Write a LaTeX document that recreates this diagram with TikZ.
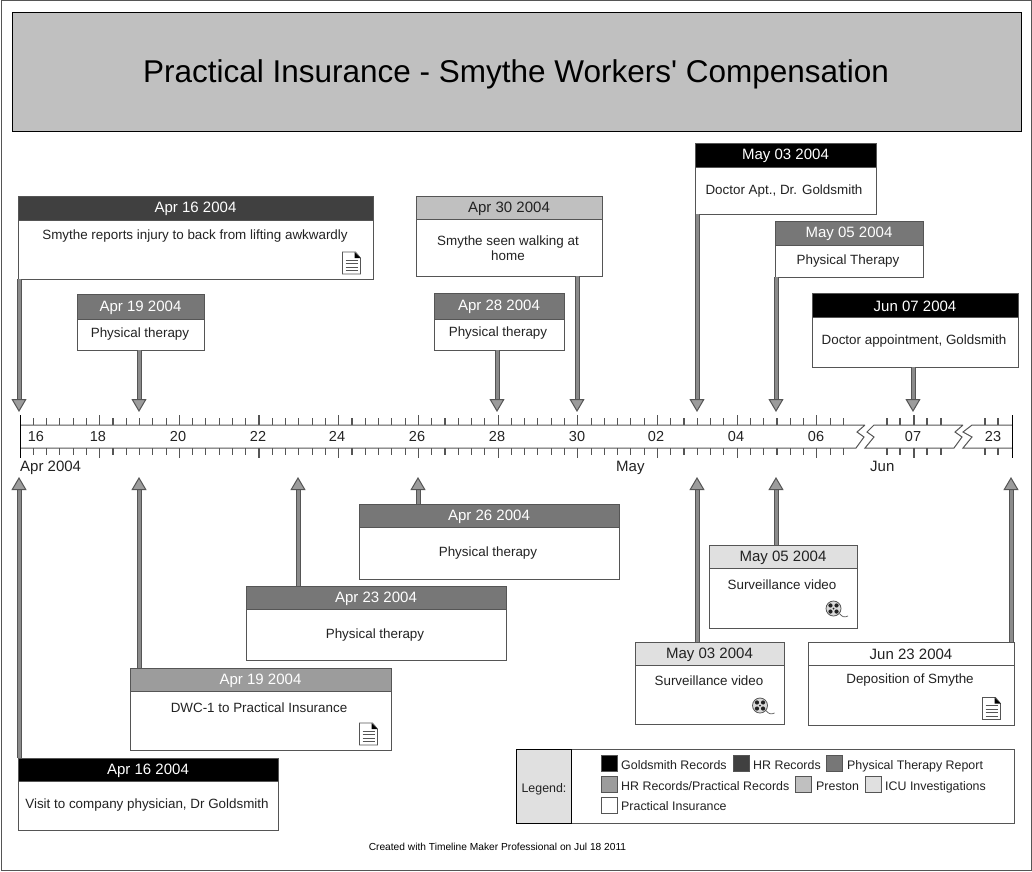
\documentclass[tikz,border=0pt]{standalone}
\usepackage{fontspec}
\setmainfont{Liberation Sans}[Ligatures=TeXOff]
\usetikzlibrary{arrows.meta}
\definecolor{goldsmithRec}{HTML}{000000}
\definecolor{hrRec}{HTML}{404040}
\definecolor{therapyRec}{HTML}{777777}
\definecolor{mixedRec}{HTML}{9C9C9C}
\definecolor{prestonRec}{HTML}{C0C0C0}
\definecolor{icuRec}{HTML}{E0E0E0}
\definecolor{axisgray}{HTML}{555555}
\definecolor{inkgray}{HTML}{222222}
\tikzset{
  hdrbox/.style={draw=axisgray,line width=1pt,inner sep=0pt,outer sep=0pt,anchor=north west,font=\fontsize{15}{15}\selectfont},
  bodybox/.style={draw=axisgray,line width=1pt,fill=white,inner sep=0pt,outer sep=0pt,anchor=north west},
  cardtext/.style={text=inkgray,align=center,yshift=-1.5pt,font=\fontsize{13.4}{15.2}\selectfont},
  axistext/.style={text=inkgray,font=\fontsize{14.5}{15}\selectfont},
  monthtext/.style={text=inkgray,anchor=base west,inner sep=0pt,font=\fontsize{15}{15}\selectfont},
  legendtext/.style={text=inkgray,anchor=base west,inner sep=0pt,font=\fontsize{12.4}{15}\selectfont},
  swatch/.style={draw=axisgray,line width=1pt,inner sep=0pt,minimum size=16pt,anchor=north west},
  evarrow/.style={draw=axisgray,line width=1pt,double=therapyRec!85!white,double distance=3pt,-{Triangle[length=13pt,width=15pt,fill=mixedRec,color=axisgray,line width=1pt]}},
  tickmark/.style={draw=axisgray,line width=1.1pt},
  darkhdr/.style={text=white},
  lighthdr/.style={text=inkgray},
}
\newcommand{\card}[8]{
  \node[hdrbox,#7,minimum width={(#3-#2)*1pt},minimum height={(#5-#4)*1pt}] (#1Hdr) at (#2,#4) {\raisebox{-1pt}[\height][\depth]{#8}};
  \node[bodybox,minimum width={(#3-#2)*1pt},minimum height={(#6-#5)*1pt}] (#1Body) at (#2,#5) {};
}
\newcommand{\docicon}[2]{
  \begin{scope}[shift={(#1,#2)}]
  \draw[axisgray,fill=white,line width=0.8pt] (-9,-11) -- (4,-11) -- (9,-5) -- (9,11) -- (-9,11) -- cycle;
  \fill[black] (3,-11) -- (9,-5) -- (3,-5) -- cycle;
  \foreach \y in {-3,0.5,4,7.5} \draw[axisgray,line width=0.9pt] (-6,\y) -- (6,\y);
  \end{scope}
}
\newcommand{\filmicon}[2]{
  \begin{scope}[shift={(#1,#2)}]
  \draw[axisgray,fill=black!15,line width=0.8pt] (0,0) circle (7.5);
  \foreach \a in {45,135,225,315} \fill[inkgray] (\a:4.3) circle (2.1);
  \fill[inkgray] (0,0) circle (1);
  \draw[axisgray,line width=0.7pt] (6,5) .. controls (8,8) and (11,9.5) .. (14.5,7.5);
  \end{scope}
}
\begin{document}
\begin{tikzpicture}[x=1pt,y=-1pt]
\useasboundingbox (0,0) rectangle (1032,871);
\draw[axisgray,line width=1pt] (1.5,0.5) rectangle (1031,870);
\node[draw=black,fill=prestonRec,line width=1pt,inner sep=0pt,anchor=north west,minimum width=1009pt,minimum height=119pt] (titleBox) at (12,12) {};
\node[text=black,font=\fontsize{31.5}{34}\selectfont] (titleText) at (516,74.5) {Practical Insurance - Smythe Workers' Compensation};

\coordinate (tipA) at (19,412);
\coordinate (tipB) at (139,412);
\coordinate (tipC) at (497,412);
\coordinate (tipD) at (577,412);
\coordinate (tipE) at (697,412);
\coordinate (tipF) at (776,412);
\coordinate (tipG) at (913,412);
\coordinate (tipH) at (19,477);
\coordinate (tipI) at (139,477);
\coordinate (tipJ) at (298,477);
\coordinate (tipK) at (418,477);
\coordinate (tipL) at (697,477);
\coordinate (tipM) at (776,477);
\coordinate (tipN) at (1011,477);

\card{injury}{18}{373}{196}{220}{279}{fill=hrRec,darkhdr}{Apr 16 2004}
\node[cardtext] (injuryText) at (195,235) {Smythe reports injury to back from lifting awkwardly};
\docicon{351.5}{263}
\card{therapyA}{77}{204}{294}{319}{350}{fill=therapyRec,darkhdr}{Apr 19 2004}
\node[cardtext] (therapyAText) at (140,333) {Physical therapy};
\card{walking}{416}{602}{196}{219}{276}{fill=prestonRec,lighthdr}{Apr 30 2004}
\node[cardtext] (walkingText) at (508,247) {Smythe seen walking at\\home};
\card{therapyB}{434}{564}{293}{319}{350}{fill=therapyRec,darkhdr}{Apr 28 2004}
\node[cardtext] (therapyBText) at (498,332) {Physical therapy};
\card{doctorA}{695}{876}{143}{167}{214}{fill=goldsmithRec,darkhdr}{May 03 2004}
\node[cardtext] (doctorAText) at (784,190) {Doctor Apt., Dr. Goldsmith};
\card{therapyC}{775}{923}{221}{245}{277}{fill=therapyRec,darkhdr}{May 05 2004}
\node[cardtext] (therapyCText) at (848,260) {Physical Therapy};
\card{doctorB}{812}{1018}{293}{317}{367}{fill=goldsmithRec,darkhdr}{Jun 07 2004}
\node[cardtext] (doctorBText) at (914,340) {Doctor appointment, Goldsmith};

\card{therapyD}{359}{619}{504}{527}{579}{fill=therapyRec,darkhdr}{Apr 26 2004}
\node[cardtext] (therapyDText) at (488,552) {Physical therapy};
\card{therapyE}{246}{506}{586}{609}{660}{fill=therapyRec,darkhdr}{Apr 23 2004}
\node[cardtext] (therapyEText) at (375,634) {Physical therapy};
\card{dwc}{130}{391}{668}{691}{750}{fill=mixedRec,darkhdr}{Apr 19 2004}
\node[cardtext] (dwcText) at (259,706) {DWC-1 to Practical Insurance};
\docicon{368.5}{734}
\card{visit}{18}{278}{758}{781}{830}{fill=goldsmithRec,darkhdr}{Apr 16 2004}
\node[cardtext] (visitText) at (147,804) {Visit to company physician, Dr Goldsmith};
\card{videoA}{709}{857}{545}{568}{628}{fill=icuRec,lighthdr}{May 05 2004}
\node[cardtext] (videoAText) at (782,583) {Surveillance video};
\filmicon{833.5}{608.5}
\card{videoB}{635}{784}{642}{665}{724}{fill=icuRec,lighthdr}{May 03 2004}
\node[cardtext] (videoBText) at (709,679) {Surveillance video};
\filmicon{760}{705.5}
\card{deposition}{808}{1014}{642}{665}{725}{fill=white,lighthdr}{Jun 23 2004}
\node[cardtext] (depositionText) at (910,679) {Deposition of Smythe};
\docicon{991.5}{708.5}

\draw[evarrow] (injuryBody.south -| tipA) -- (tipA);
\draw[evarrow] (therapyABody.south -| tipB) -- (tipB);
\draw[evarrow] (therapyBBody.south -| tipC) -- (tipC);
\draw[evarrow] (walkingBody.south -| tipD) -- (tipD);
\draw[evarrow] (doctorABody.south -| tipE) -- (tipE);
\draw[evarrow] (therapyCBody.south -| tipF) -- (tipF);
\draw[evarrow] (doctorBBody.south -| tipG) -- (tipG);
\draw[evarrow] (visitHdr.north -| tipH) -- (tipH);
\draw[evarrow] (dwcHdr.north -| tipI) -- (tipI);
\draw[evarrow] (therapyEHdr.north -| tipJ) -- (tipJ);
\draw[evarrow] (therapyDHdr.north -| tipK) -- (tipK);
\draw[evarrow] (videoBHdr.north -| tipL) -- (tipL);
\draw[evarrow] (videoAHdr.north -| tipM) -- (tipM);
\draw[evarrow] (depositionHdr.north -| tipN) -- (tipN);

\draw[axisgray,line width=1pt] (865,425) -- (20,425) (20,448) -- (856,448) -- (864,437) -- (857,432) -- (865,425);
\draw[axisgray,line width=1pt] (963,425) -- (874,425) -- (867,432) -- (874,437) -- (865,448) -- (954,448) -- (962,437) -- (955,432) -- (963,425);
\draw[axisgray,line width=1pt] (1012,425) -- (972,425) -- (963,432) -- (972,437) -- (963,448) -- (1012,448);
\draw[black,line width=1pt] (20,415) -- (20,458);
\draw[black,line width=1pt] (1012,415) -- (1012,458);
\foreach \i in {1,...,62} {
  \draw[tickmark] ({20+13.28*\i},418) -- ({20+13.28*\i},425);
  \draw[tickmark] ({20+13.28*\i},448) -- ({20+13.28*\i},455);
}
\foreach \i in {6,12,...,60} {
  \draw[tickmark] ({20+13.28*\i},415) -- ({20+13.28*\i},425);
  \draw[tickmark] ({20+13.28*\i},448) -- ({20+13.28*\i},458);
}
\foreach \x in {887,900,914,927,941,985,998} {
  \draw[tickmark] (\x,418) -- (\x,425);
  \draw[tickmark] (\x,448) -- (\x,455);
}
\draw[tickmark] (914,415) -- (914,418);
\draw[tickmark] (914,455) -- (914,458);
\foreach \d/\x in {16/36,18/98,20/178,22/258,24/337,26/417,28/497,30/577,02/656,04/736,06/816,07/913,23/993}
  \node[axistext] (day\d) at (\x,436.5) {\d};
\node[monthtext] (monthApr) at (20,471) {Apr 2004};
\node[monthtext] (monthMay) at (616,471) {May};
\node[monthtext] (monthJun) at (870,471) {Jun};

\node[draw=axisgray,fill=white,line width=1pt,inner sep=0pt,anchor=north west,minimum width=498pt,minimum height=74pt] (legendBox) at (516,749) {};
\node[draw=black,fill=icuRec,line width=1pt,inner sep=0pt,anchor=north west,minimum width=55pt,minimum height=74pt,text=inkgray,font=\fontsize{12.4}{15}\selectfont] (legendLabel) at (516,749) {\raisebox{-2.5pt}[\height][\depth]{Legend:}};
\node[swatch,fill=goldsmithRec] (swGoldsmith) at (601,755) {};
\node[legendtext] (txGoldsmith) at (621,769) {Goldsmith Records};
\node[swatch,fill=hrRec] (swHr) at (733,755) {};
\node[legendtext] (txHr) at (753,769) {HR Records};
\node[swatch,fill=therapyRec] (swTherapy) at (826,755) {};
\node[legendtext] (txTherapy) at (847,769) {Physical Therapy Report};
\node[swatch,fill=mixedRec] (swMixed) at (601,776) {};
\node[legendtext] (txMixed) at (621,790) {HR Records/Practical Records};
\node[swatch,fill=prestonRec] (swPreston) at (795,776) {};
\node[legendtext] (txPreston) at (816,790) {Preston};
\node[swatch,fill=icuRec] (swIcu) at (865,776) {};
\node[legendtext] (txIcu) at (885,790) {ICU Investigations};
\node[swatch,fill=white] (swPractical) at (601,797) {};
\node[legendtext] (txPractical) at (621,810) {Practical Insurance};
\node[text=black,font=\fontsize{10.2}{11}\selectfont] (footerText) at (497.5,847) {Created with Timeline Maker Professional on Jul 18 2011};
\end{tikzpicture}
\end{document}
